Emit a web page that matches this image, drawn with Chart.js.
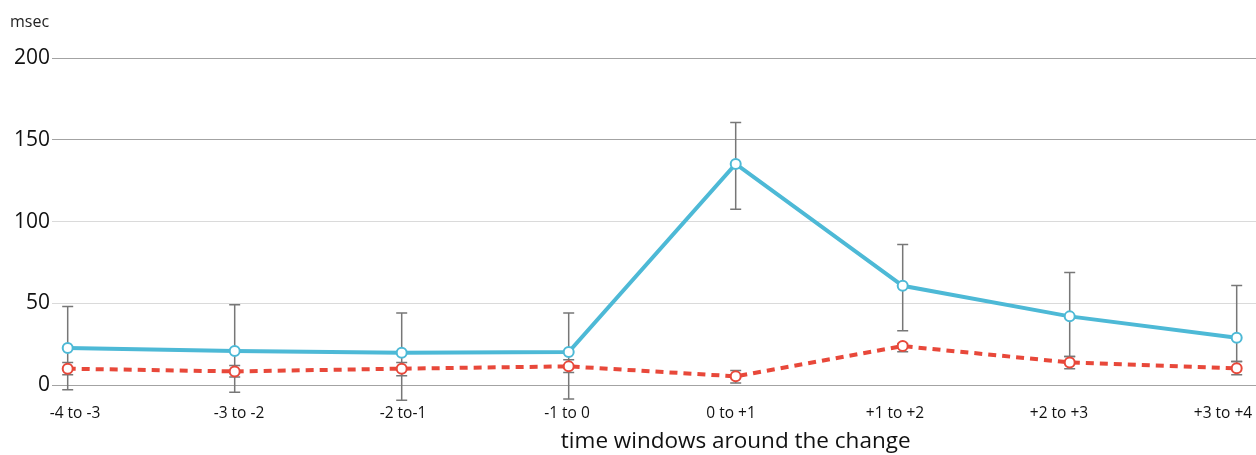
<!DOCTYPE html>
<html>
<head>
<meta charset="utf-8">
<title>Response time around the change</title>
<script src="https://cdn.jsdelivr.net/npm/chart.js@4.4.1/dist/chart.umd.min.js"></script>
<style>
  html, body { margin: 0; padding: 0; background: #fff; }
  canvas { display: block; }
</style>
</head>
<body>
<canvas id="chart" width="1256" height="455"></canvas>
<script>
// Time windows (in steps) relative to the change
const categories = ['-4 to -3', '-3 to -2', '-2 to-1', '-1 to 0', '0 to +1', '+1 to +2', '+2 to +3', '+3 to +4'];

// Blue series: mean and error-bar ends (msec)
const blueMean = [22.6, 20.8, 19.8, 20.2, 135.3, 60.7, 42.0, 28.9];
const blueHigh = [48.1, 49.1, 44.0, 44.0, 160.6, 86.0, 68.9, 60.9];
const blueLow  = [-2.9, -4.5, -9.4, -8.6, 107.6, 33.2, 17.5, 14.4];

// Red series: mean and error-bar ends (msec)
const redMean = [10.0, 8.3, 10.0, 11.4, 5.3, 23.8, 13.8, 10.2];
const redHigh = [13.8, 12.0, 13.8, 15.5, 8.9, 25.4, 17.5, 14.4];
const redLow  = [6.3, 4.9, 5.7, 7.7, 1.2, 20.4, 10.0, 6.3];

// Y axis ticks
const yTicks = [0, 50, 100, 150, 200];
const strongGrid = [0, 150, 200];

const FONT = '"Open Sans", "Noto Sans", sans-serif';
const BLUE = '#4db9d6';
const RED = '#e8483a';

const toPoints = (arr) => arr.map((v, i) => ({ x: i, y: v }));

// Gray error bars with caps, drawn under the lines and markers
const errorBars = {
  id: 'errorBars',
  beforeDatasetsDraw(chart) {
    const xs = chart.scales.x, ys = chart.scales.y, ctx = chart.ctx;
    const cap = 5.5;
    ctx.save();
    ctx.strokeStyle = '#777';
    ctx.lineWidth = 1.5;
    const draw = (lo, hi) => {
      lo.forEach((l, i) => {
        const px = xs.getPixelForValue(i);
        const y1 = ys.getPixelForValue(hi[i]);
        const y2 = ys.getPixelForValue(l);
        ctx.beginPath();
        ctx.moveTo(px, y1); ctx.lineTo(px, y2);
        ctx.moveTo(px - cap, y1); ctx.lineTo(px + cap, y1);
        ctx.moveTo(px - cap, y2); ctx.lineTo(px + cap, y2);
        ctx.stroke();
      });
    };
    draw(blueLow, blueHigh);
    draw(redLow, redHigh);
    ctx.restore();
  }
};

// Axis title centred under the change window
const xTitle = {
  id: 'xTitle',
  afterDraw(chart) {
    const xs = chart.scales.x, ctx = chart.ctx;
    ctx.save();
    ctx.font = '22.5px ' + FONT;
    ctx.fillStyle = '#111';
    ctx.textAlign = 'center';
    ctx.textBaseline = 'alphabetic';
    ctx.fillText('time windows around the change', xs.getPixelForValue(categories.indexOf('0 to +1')), chart.chartArea.bottom + 63);
    ctx.restore();
  }
};

new Chart(document.getElementById('chart'), {
  type: 'line',
  data: {
    datasets: [
      {
        data: toPoints(blueMean),
        borderColor: BLUE,
        borderWidth: 4,
        pointRadius: 5,
        pointBorderWidth: 2,
        pointBackgroundColor: '#fff',
        pointBorderColor: BLUE,
        tension: 0,
        clip: false,
        xAxisID: 'x', yAxisID: 'y'
      },
      {
        data: toPoints(redMean),
        borderColor: RED,
        borderWidth: 4,
        borderDash: [8, 6],
        pointRadius: 5,
        pointBorderWidth: 2,
        pointBackgroundColor: '#fff',
        pointBorderColor: RED,
        tension: 0,
        clip: false,
        xAxisID: 'x', yAxisID: 'y'
      }
    ]
  },
  options: {
    responsive: false,
    animation: false,
    events: [],
    layout: { autoPadding: false, padding: { left: 10, right: 0, top: 0, bottom: 0 } },
    plugins: {
      legend: { display: false },
      tooltip: { enabled: false },
      title: {
        display: true,
        text: 'msec',
        align: 'start',
        color: '#222',
        font: { family: FONT, size: 16, weight: 'normal' },
        padding: { top: 13, bottom: 26 }
      }
    },
    scales: {
      x: {
        type: 'linear',
        display: false,
        min: -0.094,
        max: 7.1156
      },
      xLabels: {
        type: 'linear',
        position: 'bottom',
        min: -0.1402,
        max: 7.2012,
        // invisible tick marks give the gap between plot and labels
        grid: { display: false, drawTicks: true, tickLength: 19 },
        border: { display: false },
        ticks: {
          stepSize: 1,
          includeBounds: false,
          autoSkip: false,
          maxRotation: 0,
          padding: 0.5,
          color: '#111',
          font: { family: FONT, size: 15.5 },
          callback: (v) => Number.isInteger(v) ? categories[v] : ''
        },
        afterFit(s) { s.height = 70; s.paddingLeft = 0; s.paddingRight = 0; }
      },
      y: {
        min: 0,
        max: 200,
        afterBuildTicks(s) { s.ticks = yTicks.map(v => ({ value: v })); },
        grid: {
          drawTicks: false,
          lineWidth: 1,
          color: (c) => strongGrid.includes(c.tick.value) ? '#a3a3a3' : '#dadada'
        },
        border: { display: false },
        ticks: {
          padding: 2,
          color: '#111',
          font: { family: FONT, size: 21 }
        },
        afterFit(s) { s.width = 42; }
      }
    }
  },
  plugins: [errorBars, xTitle]
});
</script>
</body>
</html>
